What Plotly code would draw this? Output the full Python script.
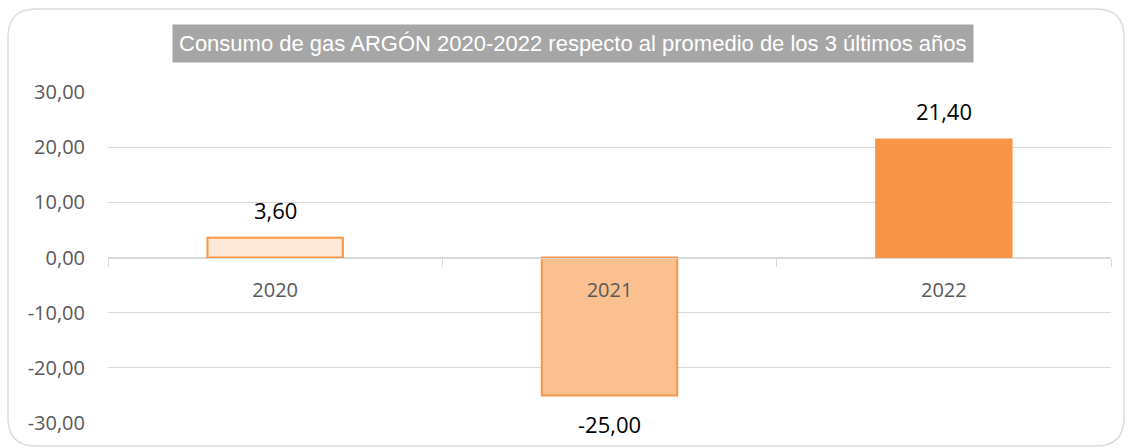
import plotly.graph_objects as go

years = ["2020", "2021", "2022"]
values = [3.60, -25.00, 21.40]
fill_colors = ["#fde9d9", "#fac090", "#f79646"]
line_colors = ["#f79646", "#f79646", "#f79646"]
title_text = "Consumo de gas ARGÓN 2020-2022 respecto al promedio de los 3 últimos años"
y_ticks = [-30, -20, -10, 0, 10, 20, 30]
y_tick_labels = ["-30,00", "-20,00", "-10,00", "0,00", "10,00", "20,00", "30,00"]

W, H = 1129, 448
ml, mr, mt, mb = 108, 18, 92, 25

fig = go.Figure()
fig.add_trace(go.Bar(
    x=list(range(len(years))), y=values, width=0.405,
    marker=dict(color=fill_colors, line=dict(color=line_colors, width=2)),
    hoverinfo="skip",
))

for i, v in enumerate(values):
    fig.add_annotation(
        x=i, y=v, xref="x", yref="y",
        text=f"{v:.2f}".replace(".", ","),
        showarrow=False,
        yshift=28 if v >= 0 else -29,
        font=dict(family="Open Sans, Noto Sans, sans-serif", size=22, color="#000000"),
    )

pw, ph = W - ml - mr, H - mt - mb

# title box
fig.add_annotation(
    x=(572.5 - ml) / pw, y=1, xref="paper", yref="paper",
    xanchor="center", yanchor="bottom", yshift=29,
    text=title_text, showarrow=False,
    bgcolor="#a6a6a6", borderpad=6,
    font=dict(family="Liberation Sans, Arial, sans-serif", size=22, color="#ffffff"),
)

# rounded chart border
def px(xp):
    return (xp - ml) / pw
def py(yp):
    return (H - mb - yp) / ph
x0, x1, y0, y1, r = 8, 1124, 9, 446, 28
path = (
    f"M {px(x0 + r)},{py(y0)} L {px(x1 - r)},{py(y0)} "
    f"Q {px(x1)},{py(y0)} {px(x1)},{py(y0 + r)} "
    f"L {px(x1)},{py(y1 - r)} Q {px(x1)},{py(y1)} {px(x1 - r)},{py(y1)} "
    f"L {px(x0 + r)},{py(y1)} Q {px(x0)},{py(y1)} {px(x0)},{py(y1 - r)} "
    f"L {px(x0)},{py(y0 + r)} Q {px(x0)},{py(y0)} {px(x0 + r)},{py(y0)} Z"
)
fig.add_shape(type="path", path=path, xref="paper", yref="paper",
              line=dict(color="#dcdcdc", width=1.5), layer="below")

fig.update_layout(
    width=W, height=H,
    margin=dict(l=ml, r=mr, t=mt, b=mb),
    paper_bgcolor="#ffffff", plot_bgcolor="#ffffff",
    separators=",.",
    showlegend=False,
    xaxis=dict(
        range=[-0.5, 2.5],
        tickvals=list(range(len(years))), ticktext=years,
        anchor="free", position=0.5,
        showline=True, linecolor="#d9d9d9", linewidth=1,
        ticks="", showgrid=False, zeroline=False,
        ticklabelstandoff=14,
        tickfont=dict(family="Open Sans, Noto Sans, sans-serif", size=20, color="#595959"),
        minor=dict(tickvals=[i - 0.5 for i in range(len(years) + 1)],
                   ticks="outside", ticklen=8, tickcolor="#d9d9d9", showgrid=False),
    ),
    yaxis=dict(
        range=[-30, 30], tickvals=y_ticks, ticktext=y_tick_labels,
        showgrid=True, gridcolor="#d9d9d9", gridwidth=1,
        zeroline=False, showline=False, ticks="",
        ticklabelstandoff=22,
        tickfont=dict(family="Open Sans, Noto Sans, sans-serif", size=20, color="#595959"),
    ),
)

fig.write_html("out.html", config={"displayModeBar": False},
               post_script="document.body.style.margin='0';document.body.style.padding='0';")
